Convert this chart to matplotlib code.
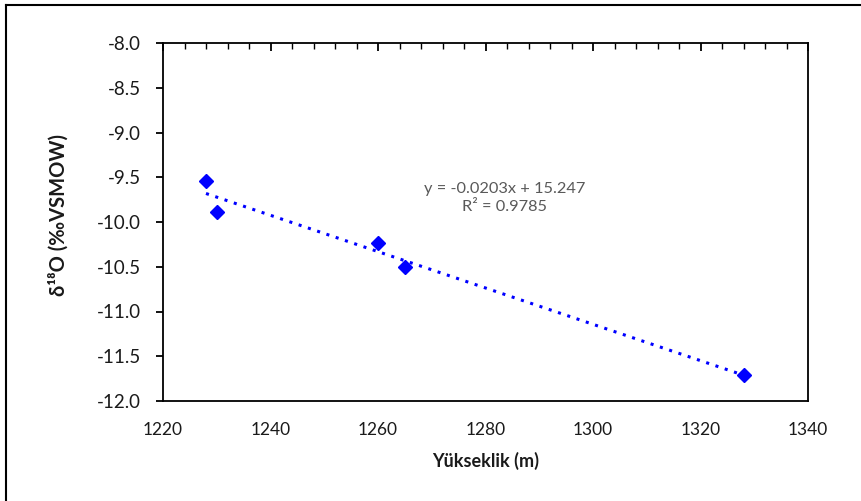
import matplotlib
matplotlib.use("Agg")
import matplotlib.pyplot as plt
from matplotlib.ticker import MultipleLocator, FormatStrFormatter
from matplotlib.lines import Line2D
import numpy as np

# Data
elevation = [1228, 1230, 1260, 1265, 1328]
d18O = [-9.54, -9.89, -10.24, -10.50, -11.71]
slope = -0.0203
intercept = 15.247
r2 = 0.9785
xlabel = "Yükseklik (m)"
ylabel = "δ¹⁸O (‰VSMOW)"

plt.rcParams['font.family'] = ['Lato', 'DejaVu Sans']

fig = plt.figure(figsize=(8.61, 5.01), dpi=100)
ax = fig.add_axes([163/861, 1-401/501, (808-163)/861, (401-43)/501])

ax.plot(elevation, d18O, linestyle='none', marker='D', markersize=7.5,
        color='#0000FF', zorder=3)
xt = np.array([min(elevation), max(elevation)])
ax.plot(xt, slope*xt + intercept, linestyle=(0, (1, 2.2)), linewidth=2.2,
        color='#0000FF', zorder=2)

ax.set_xlim(1220, 1340)
ax.set_ylim(-12, -8)
ax.xaxis.set_major_locator(MultipleLocator(20))
ax.xaxis.set_minor_locator(MultipleLocator(4))
ax.yaxis.set_major_locator(MultipleLocator(0.5))
ax.yaxis.set_major_formatter(FormatStrFormatter('%.1f'))

for s in ax.spines.values():
    s.set_linewidth(1.3)
    s.set_color('black')

ax.tick_params(axis='x', which='major', bottom=False, top=True, direction='in',
               length=6, width=1.3, labelbottom=True, labelsize=12.5, pad=15,
               labelcolor='#1a1a1a')
ax.tick_params(axis='x', which='minor', bottom=False, top=True, direction='in',
               length=4, width=1)
ax.tick_params(axis='y', which='major', left=True, right=False, direction='out',
               length=5, width=1.3, labelsize=13.5, pad=11, labelcolor='#1a1a1a')

ax.set_xlabel(xlabel, fontsize=13, fontweight='bold', labelpad=10, color='#1a1a1a')
ax.set_ylabel(ylabel, fontsize=14.5, fontweight='bold', labelpad=16, color='#1a1a1a')
ax.yaxis.set_label_coords(-0.147, 0.52)

ax.text(0.529, 0.567, f"y = {slope}x + {intercept}\nR² = {r2}",
        transform=ax.transAxes, ha='center', va='center', fontsize=11.8,
        color='#595959', linespacing=1.3)

# outer chart border (left and top visible)
fig.add_artist(Line2D([6/861, 6/861], [0, 1-5/501], transform=fig.transFigure,
                      color='black', linewidth=1.5))
fig.add_artist(Line2D([6/861, 1], [1-5/501, 1-5/501], transform=fig.transFigure,
                      color='black', linewidth=1.5))

fig.savefig("out.png", dpi=100)
